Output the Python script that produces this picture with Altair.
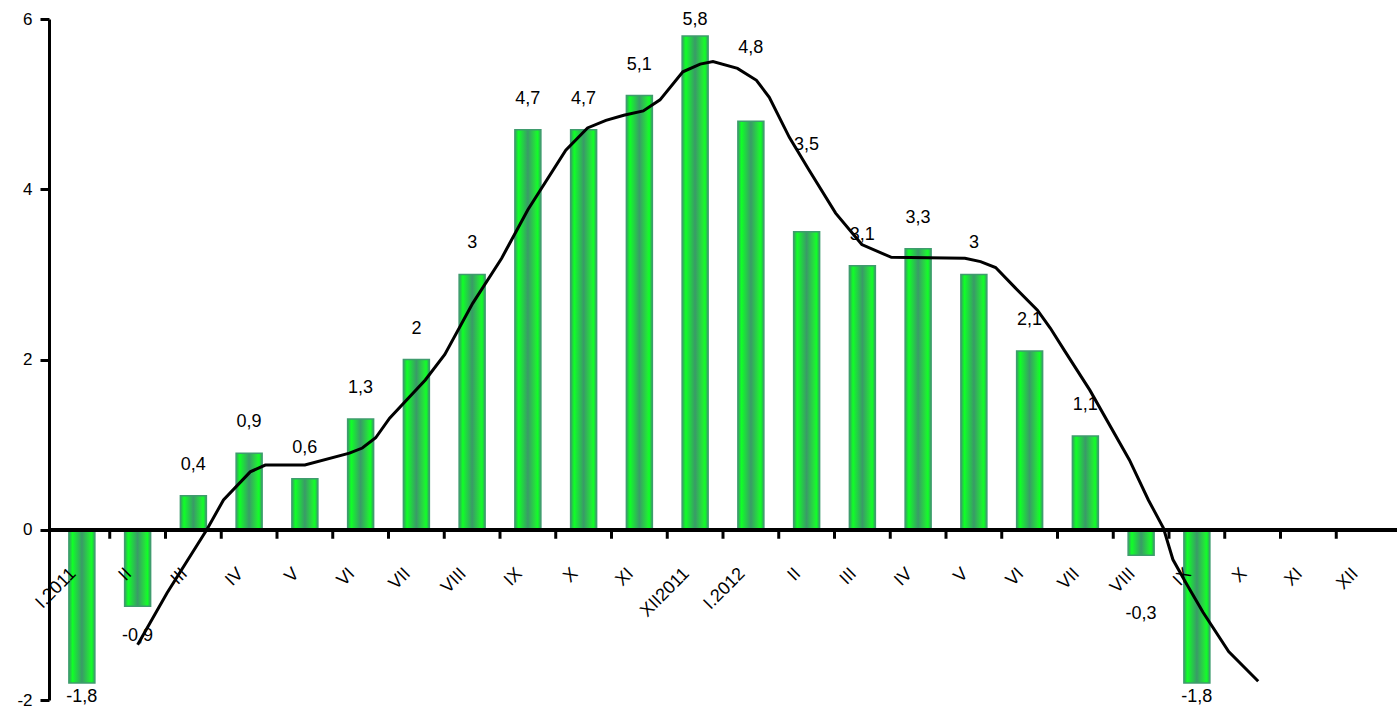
import altair as alt
import pandas as pd

# Monthly values, January 2011 to December 2012
months = ["I.2011", "II", "III", "IV", "V", "VI", "VII", "VIII", "IX", "X", "XI", "XII2011",
          "I.2012", "II", "III", "IV", "V", "VI", "VII", "VIII", "IX", "X", "XI", "XII"]
values = [-1.8, -0.9, 0.4, 0.9, 0.6, 1.3, 2, 3, 4.7, 4.7, 5.1, 5.8,
          4.8, 3.5, 3.1, 3.3, 3, 2.1, 1.1, -0.3, -1.8, None, None, None]

# Smoothed trend: month position (0 = I.2011) and level
trend_pos = [1.0, 1.53, 2.24, 2.54, 3.02, 3.29, 4.0, 4.8, 5.03, 5.27, 5.52, 6.16, 6.51,
             7.01, 7.53, 8.0, 8.68, 9.07, 9.4, 9.72, 10.07, 10.37, 10.78, 11.09, 11.32,
             11.76, 12.1, 12.33, 12.69, 13.04, 13.52, 13.99, 14.52, 15.84, 16.12, 16.39,
             16.73, 17.14, 17.37, 17.62, 18.08, 18.79, 19.13, 19.4, 19.57, 19.8, 20.11,
             20.57, 21.1]
trend_val = [-1.35, -0.74, 0.0, 0.35, 0.68, 0.76, 0.76, 0.90, 0.96, 1.08, 1.31, 1.76, 2.06,
             2.66, 3.19, 3.76, 4.46, 4.72, 4.81, 4.87, 4.92, 5.05, 5.38, 5.47, 5.50,
             5.42, 5.28, 5.08, 4.61, 4.23, 3.72, 3.35, 3.20, 3.19, 3.15, 3.08,
             2.85, 2.58, 2.37, 2.11, 1.64, 0.82, 0.35, 0.02, -0.35, -0.62, -0.97,
             -1.43, -1.78]

W, H = 1348, 681
Y_MIN, Y_MAX = -2, 6
PX_PER_UNIT = H / (Y_MAX - Y_MIN)
FONT = "Liberation Sans"

# label placement (pixels from bar end; negative = up); a few labels sit elsewhere
label_shift = {0: 14, 11: -16, 12: -73, 13: -87, 19: 59, 20: 14}


def fmt(v):
    s = f"{v:.1f}".rstrip("0").rstrip(".")
    return s.replace(".", ",")


rows = []
for i, v in enumerate(values):
    if v is None:
        continue
    shift = label_shift.get(i, -31 if v >= 0 else 30)
    rows.append({"pos": i, "value": v, "text": fmt(v), "label_y": v - shift / PX_PER_UNIT})
bars_df = pd.DataFrame(rows)
trend_df = pd.DataFrame({"pos": trend_pos, "value": trend_val})
ticks_df = pd.DataFrame({"b": [i + 0.5 for i in range(len(months) - 1)]})
ticks_df["top"] = 0
ticks_df["bottom"] = -9 / PX_PER_UNIT

x_scale = alt.Scale(domain=[-0.5, len(months) - 0.5], nice=False, zero=False)
y_scale = alt.Scale(domain=[Y_MIN, Y_MAX], nice=False)

# the month axis sits on the zero line, not at the bottom of the plot
zero_from_bottom = (0 - Y_MIN) * PX_PER_UNIT

label_array = "[" + ",".join(f"'{m}'" for m in months) + "]"
x_axis = alt.Axis(
    values=list(range(len(months))),
    labelExpr=f"{label_array}[datum.value]",
    ticks=False, domain=False, grid=False, title=None,
    labelAngle=315, labelAlign="right", labelBaseline="middle",
    labelPadding=41, labelOffset=-9, offset=-zero_from_bottom,
    labelFont=FONT, labelFontSize=18, labelColor="#000000",
    labelOverlap=False, labelFlush=False, labelBound=False, zindex=1,
)
y_axis = alt.Axis(
    values=[-2, 0, 2, 4, 6], labelExpr="datum.value + ''",
    grid=False, title=None, domainColor="#000000", domainWidth=3,
    tickColor="#000000", tickWidth=3, tickSize=9, labelPadding=8,
    labelFont=FONT, labelFontSize=17, labelColor="#000000", zindex=1,
)

bar_fill = alt.Gradient(
    gradient="linear", x1=0, x2=1, y1=0, y2=0,
    stops=[
        alt.GradientStop(color="#36a060", offset=0),
        alt.GradientStop(color="#10ff28", offset=0.14),
        alt.GradientStop(color="#3a9a68", offset=0.5),
        alt.GradientStop(color="#22e838", offset=0.8),
        alt.GradientStop(color="#10ff28", offset=0.88),
        alt.GradientStop(color="#36a060", offset=1),
    ],
)

bars = alt.Chart(bars_df).mark_bar(size=26, fill=bar_fill, stroke="#3f9c6e", strokeWidth=1.5).encode(
    x=alt.X("pos:Q", scale=x_scale, axis=x_axis),
    y=alt.Y("value:Q", scale=y_scale, axis=y_axis),
    y2=alt.datum(0),
)

labels = alt.Chart(bars_df).mark_text(
    font=FONT, fontSize=18, color="#000000", align="center", baseline="middle"
).encode(
    x=alt.X("pos:Q", scale=x_scale),
    y=alt.Y("label_y:Q", scale=y_scale),
    text="text:N",
)

zero_line = alt.Chart(bars_df).mark_rule(color="#000000", strokeWidth=3).encode(
    y=alt.datum(0, scale=y_scale)
)

band_ticks = alt.Chart(ticks_df).mark_rule(color="#000000", strokeWidth=3).encode(
    x=alt.X("b:Q", scale=x_scale),
    y=alt.Y("top:Q", scale=y_scale),
    y2="bottom:Q",
)

trend = alt.Chart(trend_df).mark_line(color="#000000", strokeWidth=3).encode(
    x=alt.X("pos:Q", scale=x_scale),
    y=alt.Y("value:Q", scale=y_scale),
)

chart = alt.layer(bars, labels, zero_line, band_ticks, trend).properties(
    width=W, height=H,
    autosize="none",
    padding={"left": 49, "top": 19, "right": 0, "bottom": 6},
    background="#ffffff",
).configure_view(stroke=None)

chart.save("out.html", embed_options={"renderer": "svg", "actions": False})
